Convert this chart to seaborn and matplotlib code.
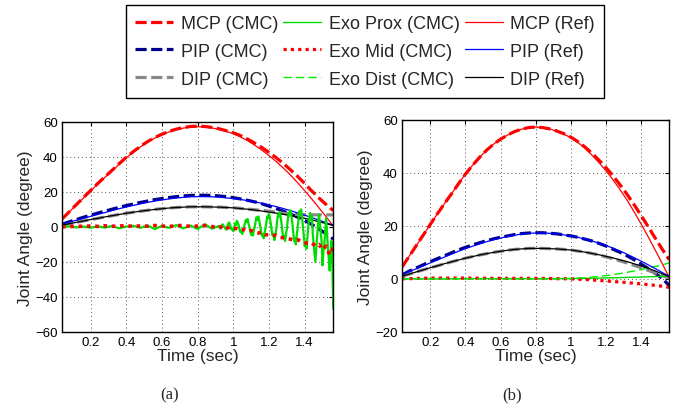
import numpy as np
import pandas as pd
import matplotlib
matplotlib.use("Agg")
import matplotlib.pyplot as plt
import seaborn as sns

# sample times of the smooth joint curves (sec)
t_joint = [0.04, 0.08, 0.12, 0.16, 0.20, 0.24, 0.28, 0.32, 0.36, 0.40,
           0.44, 0.48, 0.52, 0.56, 0.60, 0.64, 0.68, 0.72, 0.76, 0.80,
           0.84, 0.88, 0.92, 0.96, 1.00, 1.04, 1.08, 1.12, 1.16, 1.20,
           1.24, 1.28, 1.32, 1.36, 1.40, 1.44, 1.48, 1.52, 1.56]

# reference trajectories (same in both panels), degree
mcp_ref = [4.5, 8.5, 12.5, 16.5, 20.5, 24.5, 28.3, 32.0, 35.8, 39.5,
           42.8, 45.8, 48.5, 50.8, 52.7, 54.3, 55.6, 56.5, 57.1, 57.3,
           57.1, 56.6, 55.7, 54.6, 53.3, 51.5, 49.3, 46.7, 43.9, 40.8,
           37.4, 33.7, 29.7, 25.3, 20.7, 15.9, 10.9, 5.8, 0.5]
pip_ref = [1.5, 2.7, 3.8, 4.9, 6.0, 7.1, 8.2, 9.3, 10.4, 11.4,
           12.3, 13.2, 14.0, 14.8, 15.4, 16.0, 16.5, 16.9, 17.2, 17.3,
           17.3, 17.2, 17.0, 16.6, 16.2, 15.7, 15.0, 14.3, 13.5, 12.6,
           11.6, 10.5, 9.3, 8.0, 6.7, 5.3, 3.9, 2.4, 1.0]
dip_ref = [1.0, 1.8, 2.6, 3.4, 4.2, 4.9, 5.7, 6.4, 7.1, 7.8,
           8.4, 9.0, 9.5, 10.0, 10.4, 10.8, 11.1, 11.3, 11.5, 11.5,
           11.5, 11.4, 11.3, 11.1, 10.9, 10.5, 10.1, 9.6, 9.1, 8.5,
           7.9, 7.2, 6.5, 5.7, 4.9, 4.0, 3.0, 1.9, 0.8]

# panel (a) CMC results
mcp_cmc_a = [4.5, 8.6, 12.7, 16.8, 20.8, 24.8, 28.6, 32.3, 36.1, 39.8,
             43.1, 46.1, 48.8, 51.1, 53.0, 54.6, 55.9, 56.8, 57.4, 57.6,
             57.4, 56.9, 56.1, 55.0, 53.8, 52.2, 50.2, 47.9, 45.4, 42.6,
             39.6, 36.3, 32.7, 28.9, 24.8, 20.5, 16.5, 12.8, 9.3]
pip_cmc_a = [1.5, 2.9, 4.2, 5.5, 6.7, 7.9, 9.0, 10.1, 11.2, 12.2,
             13.1, 14.0, 14.8, 15.6, 16.2, 16.8, 17.3, 17.7, 18.0, 18.1,
             18.1, 18.0, 17.7, 17.3, 16.7, 16.0, 15.2, 14.3, 13.2, 11.9,
             10.5, 9.0, 7.4, 5.6, 3.6, 1.4, -1.2, -4.0, -7.0]
dip_cmc_a = [1.0, 1.8, 2.6, 3.4, 4.2, 4.9, 5.7, 6.4, 7.1, 7.8,
             8.4, 9.0, 9.5, 10.0, 10.4, 10.8, 11.1, 11.3, 11.5, 11.5,
             11.5, 11.4, 11.3, 11.1, 10.9, 10.6, 10.2, 9.8, 9.4, 9.0,
             8.4, 7.8, 7.3, 7.0, 6.9, 6.9, 6.9, 6.9, 6.9]

# panel (b) CMC results
mcp_cmc_b = [4.5, 8.5, 12.5, 16.5, 20.5, 24.5, 28.3, 32.0, 35.8, 39.5,
             42.8, 45.8, 48.5, 50.8, 52.7, 54.3, 55.6, 56.5, 57.1, 57.3,
             57.1, 56.6, 55.8, 54.8, 53.5, 51.8, 49.8, 47.4, 44.8, 42.0,
             38.9, 35.5, 31.9, 28.0, 23.9, 19.7, 15.4, 11.2, 7.2]
pip_cmc_b = [1.5, 2.9, 4.1, 5.3, 6.5, 7.6, 8.7, 9.8, 10.9, 11.9,
             12.8, 13.6, 14.4, 15.1, 15.7, 16.2, 16.7, 17.1, 17.3, 17.4,
             17.4, 17.2, 17.0, 16.6, 16.2, 15.7, 15.0, 14.3, 13.4, 12.4,
             11.2, 10.0, 8.7, 7.2, 5.6, 3.9, 2.1, 0.2, -2.5]
dip_cmc_b = [1.0, 1.8, 2.6, 3.4, 4.2, 4.9, 5.7, 6.4, 7.1, 7.8,
             8.4, 9.0, 9.5, 10.0, 10.4, 10.8, 11.1, 11.3, 11.5, 11.5,
             11.5, 11.4, 11.3, 11.1, 10.9, 10.5, 10.1, 9.6, 9.0, 8.3,
             7.6, 6.8, 6.0, 5.1, 4.2, 3.2, 2.2, 1.2, 0.3]

# panel (a) exoskeleton joints (noisy)
t_exo_a_early = [0.04, 0.08, 0.12, 0.16, 0.20, 0.24, 0.28, 0.32, 0.36, 0.40, 0.44,
                 0.48, 0.52, 0.56, 0.60, 0.64, 0.68, 0.72, 0.76, 0.80, 0.84, 0.88]
prox_a_early = [0, 0.3, -0.3, 0.2, -0.5, 0.3, -0.4, 0.5, -0.8, 0.2, 0.6,
                -0.5, 0.8, -1.2, 0.6, -0.5, 1.0, -0.8, 0.8, -1.2, 1.5, -1.0]
mid_a_early = [0, 0.2, 0.4, 0.3, 0.5, 0.3, 0.6, 0.4, 0.5, 0.7, 0.3,
               0.6, 0.4, 0.8, 0.5, 0.3, 0.6, 0.9, 0.2, 0.5, 0.8, 0.2]
# 0.92 ... 1.56 s, every 0.005 s
prox_a_late = [0.5, -0.5, -1, 0.5, 1.5, 0.5, 0, -1, -1.5, 0, 1.5, 2.5, 2,
               0, -1.5, -1, -2.5, -1.5, 2, 1, 3.5, 2.5, 1, -1.5, -3, -2,
               -4, -2.5, 0, 2, 4, 3, 4.5, 2, 0, -2.5, -4.5, -3.5, -5, -2,
               0, 3, 5.5, 4, 6, 3.5, 1, -2.5, -5, -4, -6.5, -3.5, -1, 2.5,
               6, 5, 7.5, 5, 2, -2, -5, -4, -7.5, -5, -2, 3, 7, 6, 8.5,
               5.5, 2, -2.5, -6, -5, -8, -4.5, -1, 4, 8, 6.5, 9.5, 7, 3,
               -2, -8, -6.5, -10, -5, -1, 4, 9, 7.5, 10, 6, 0, -5, -11,
               -9, -12.5, -6, 0, 5, 8, 4, 6, -3, -10, -15, -20, -12, -5,
               2, 7, 2, -3, -9, -22, -14, -10, -2, 5, -4, -12, -18, -25,
               -15, -8, -20, -47]
mid_a_late = [-0.5, 0.5, -1, 0, -0.8, -1, -2, -1.5, -2.5, -2, -3, -3.5, -3,
              -4.5, -4.5, -5, -4.8, -6, -6.2, -6.5, -7, -7.5, -7.2, -8.5,
              -9, -9.5, -9, -11, -10, -13, -11, -16, -12]  # every 0.02 s

# panel (b) exoskeleton joints
t_exo_b = [0.04, 0.2, 0.4, 0.6, 0.8, 0.9, 1.0, 1.1, 1.2, 1.3, 1.4, 1.5, 1.56]
prox_b = [0, 0, 0.1, 0.1, 0.1, 0.1, 0.15, 0.2, 0.35, 0.5, 0.7, 0.9, 1.0]
mid_b = [0, 0.3, 0.3, 0.2, 0.2, 0.1, 0, -0.3, -0.8, -1.3, -1.9, -2.6, -3.2]
dist_b = [0, 0, 0, 0, 0, 0, 0.1, 0.5, 1.2, 2.2, 3.5, 5.0, 6.0]

labels = ["MCP (CMC)", "PIP (CMC)", "DIP (CMC)",
          "Exo Prox (CMC)", "Exo Mid (CMC)", "Exo Dist (CMC)",
          "MCP (Ref)", "PIP (Ref)", "DIP (Ref)"]

sns.set_theme(style="white")
plt.rcParams["font.family"] = ["Liberation Sans", "DejaVu Sans"]

dash = (0, (3.5, 1.4))
styles = {
    "MCP (CMC)": dict(color="#ff0000", lw=2.3, ls=dash),
    "PIP (CMC)": dict(color="#00008b", lw=2.3, ls=dash),
    "DIP (CMC)": dict(color="#888888", lw=2.3, ls=dash),
    "Exo Prox (CMC)": dict(color="#00dd00", lw=1.0, ls="-"),
    "Exo Mid (CMC)": dict(color="#ff0000", lw=2.3, ls=(0, (1, 1.3))),
    "Exo Dist (CMC)": dict(color="#00ee00", lw=1.0, ls=(0, (6, 3))),
    "MCP (Ref)": dict(color="#ff0000", lw=0.9, ls="-"),
    "PIP (Ref)": dict(color="#0000ff", lw=0.9, ls="-"),
    "DIP (Ref)": dict(color="#000000", lw=0.9, ls="-"),
}


def curve(ax, t, y, name, lw=None):
    st = styles[name]
    sns.lineplot(x=np.asarray(t, float), y=np.asarray(y, float), ax=ax,
                 color=st["color"], linewidth=lw or st["lw"], linestyle=st["ls"],
                 label=name, legend=False, estimator=None, sort=False)


fig = plt.figure(figsize=(6.85, 4.14), dpi=100)
ax_a = fig.add_axes([0.0905, 0.196, 0.396, 0.507])
ax_b = fig.add_axes([0.587, 0.196, 0.390, 0.512])

t_prox_late = np.linspace(0.92, 1.56, len(prox_a_late))
t_mid_late = np.linspace(0.92, 1.56, len(mid_a_late))

# panel (a)
curve(ax_a, t_joint, mcp_cmc_a, "MCP (CMC)")
curve(ax_a, t_joint, pip_cmc_a, "PIP (CMC)")
curve(ax_a, t_joint, dip_cmc_a, "DIP (CMC)")
curve(ax_a, t_joint, mcp_ref, "MCP (Ref)")
curve(ax_a, t_joint, pip_ref, "PIP (Ref)")
curve(ax_a, t_joint, dip_ref, "DIP (Ref)")
curve(ax_a, np.r_[t_exo_a_early, t_prox_late], prox_a_early + prox_a_late,
      "Exo Prox (CMC)", lw=1.6)
curve(ax_a, np.r_[t_exo_a_early, t_mid_late], mid_a_early + mid_a_late,
      "Exo Mid (CMC)", lw=2.6)

# panel (b)
curve(ax_b, t_joint, mcp_cmc_b, "MCP (CMC)")
curve(ax_b, t_joint, pip_cmc_b, "PIP (CMC)")
curve(ax_b, t_joint, dip_cmc_b, "DIP (CMC)")
curve(ax_b, t_exo_b, prox_b, "Exo Prox (CMC)")
curve(ax_b, t_exo_b, mid_b, "Exo Mid (CMC)")
curve(ax_b, t_exo_b, dist_b, "Exo Dist (CMC)")
curve(ax_b, t_joint, mcp_ref, "MCP (Ref)")
curve(ax_b, t_joint, pip_ref, "PIP (Ref)")
curve(ax_b, t_joint, dip_ref, "DIP (Ref)")

for ax, ylim, yt in [(ax_a, (-60, 60), range(-60, 61, 20)),
                     (ax_b, (-20, 60), range(-20, 61, 20))]:
    ax.set_xlim(0.04, 1.56)
    ax.set_ylim(*ylim)
    ax.set_xticks([0.2, 0.4, 0.6, 0.8, 1.0, 1.2, 1.4])
    ax.set_xticklabels(["0.2", "0.4", "0.6", "0.8", "1", "1.2", "1.4"])
    ax.set_yticks(list(yt))
    ax.set_yticklabels([str(v).replace("-", "\u2212") for v in yt])
    ax.grid(True, color="#555555", linestyle=(0, (1, 3)), linewidth=0.7)
    ax.tick_params(direction="in", length=3, width=0.8, labelsize=9.5,
                   top=True, right=True, colors="black", pad=3)
    for sp in ax.spines.values():
        sp.set_color("black")
        sp.set_linewidth(1.0)
    ax.set_xlabel("Time (sec)", fontsize=12.5, labelpad=0)
    ax.set_ylabel("Joint Angle (degree)", fontsize=12.5, labelpad=2)

fig.text(170 / 685, 1 - 395 / 414, "(a)", ha="center", va="center",
         fontsize=12, family=["Liberation Serif", "DejaVu Serif"])
fig.text(512 / 685, 1 - 395 / 414, "(b)", ha="center", va="center",
         fontsize=12, family=["Liberation Serif", "DejaVu Serif"])

handles = {l.get_label(): l for l in ax_b.get_lines()}
leg = fig.legend([handles[n] for n in labels], labels, ncol=3,
                 loc="upper center", bbox_to_anchor=(365 / 685, 1 - 6 / 414),
                 fontsize=13, frameon=True, fancybox=False, framealpha=1,
                 edgecolor="black", borderpad=0.55, labelspacing=0.6,
                 columnspacing=0.3, handletextpad=0.4, handlelength=2.1,
                 borderaxespad=0)
leg.get_frame().set_linewidth(1.0)

fig.savefig("out.png", dpi=100)
